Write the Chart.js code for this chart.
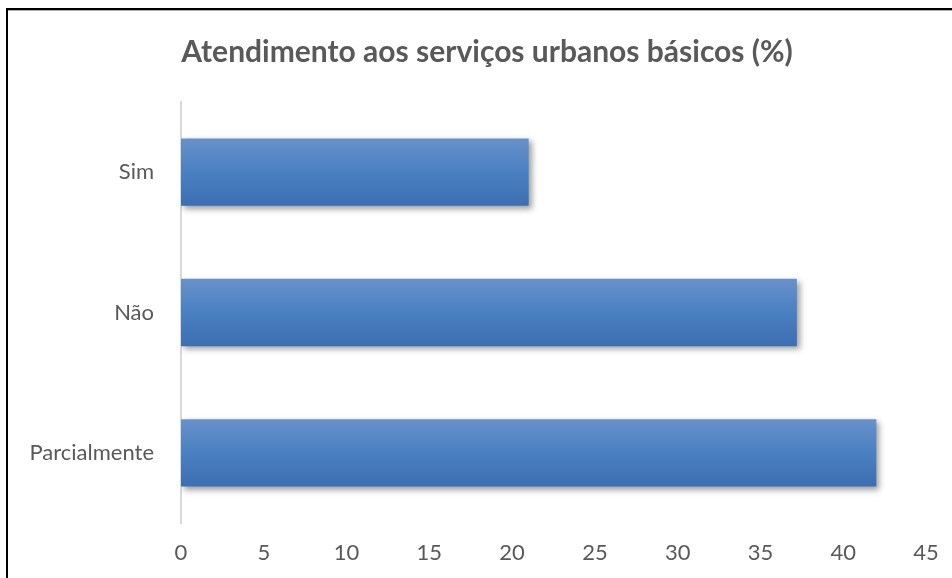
<!DOCTYPE html>
<html lang="pt">
<head>
<meta charset="utf-8">
<title>Atendimento aos serviços urbanos básicos</title>
<script src="https://cdn.jsdelivr.net/npm/chart.js@4/dist/chart.umd.min.js"></script>
<style>
    html, body {
        margin: 0;
        padding: 0;
        background: #ffffff;
        overflow: hidden;
    }
    #wrap {
        position: relative;
        width: 952px;
        height: 578px;
    }
    #frame {
        position: absolute;
        left: 6px;
        top: 8px;
        width: 1000px;
        height: 1000px;
        border-top: 2px solid #000;
        border-left: 2px solid #000;
        box-shadow: inset 0 1px 0 #b0b0b0;
        pointer-events: none;
    }
    canvas {
        position: absolute;
        left: 0;
        top: 0;
    }
</style>
</head>
<body>
<div id="wrap">
    <div id="frame"></div>
    <canvas id="chart"></canvas>
</div>
<script>
// Data
const categories = ['Sim', 'Não', 'Parcialmente'];
const percentages = [21, 37.2, 42];
const xTicks = [0, 5, 10, 15, 20, 25, 30, 35, 40, 45];

const FONT = 'Lato, "Open Sans", sans-serif';
const TEXT_COLOR = '#595959';
const BAR_PCT = 0.48;

// Vertical gradient for each bar, lighter at the top
function barGradient(context) {
    const chart = context.chart;
    if (!chart.chartArea) return '#4a7fc1';
    const yScale = chart.scales.y;
    const center = yScale.getPixelForValue(context.dataIndex);
    const band = (chart.chartArea.bottom - chart.chartArea.top) / categories.length;
    const half = band * BAR_PCT / 2;
    const g = chart.ctx.createLinearGradient(0, center - half, 0, center + half);
    g.addColorStop(0, '#6891ca');
    g.addColorStop(0.5, '#4a80c2');
    g.addColorStop(1, '#3b6eb2');
    return g;
}

// Soft drop shadow under the bars
const barShadow = {
    id: 'barShadow',
    beforeDatasetsDraw(chart) {
        const ctx = chart.ctx;
        ctx.save();
        ctx.shadowColor = 'rgba(0, 0, 0, 0.38)';
        ctx.shadowBlur = 6;
        ctx.shadowOffsetX = 3;
        ctx.shadowOffsetY = 3;
    },
    afterDatasetsDraw(chart) {
        chart.ctx.restore();
    }
};

const chart = new Chart(document.getElementById('chart').getContext('2d'), {
    type: 'bar',
    data: {
        labels: categories,
        datasets: [{
            label: 'Atendimento (%)',
            data: percentages,
            backgroundColor: barGradient,
            borderWidth: 0,
            categoryPercentage: 1,
            barPercentage: BAR_PCT
        }]
    },
    options: {
        indexAxis: 'y',
        responsive: true,
        maintainAspectRatio: false,
        animation: false,
        layout: {
            padding: { left: 22, right: 0, top: 0, bottom: 0 }
        },
        scales: {
            x: {
                min: 0,
                max: 45,
                afterBuildTicks: (axis) => {
                    axis.ticks = xTicks.map(v => ({ value: v }));
                },
                grid: { display: false, drawTicks: false },
                border: { display: false },
                ticks: {
                    padding: 17,
                    color: TEXT_COLOR,
                    font: { family: FONT, size: 22 }
                },
                afterFit: (axis) => {
                    axis.height = 55;
                    axis.paddingRight = 26;
                }
            },
            y: {
                grid: { display: false, drawTicks: false },
                border: { display: true, color: '#d9d9d9', width: 2 },
                ticks: {
                    padding: 27,
                    color: TEXT_COLOR,
                    font: { family: FONT, size: 22 }
                },
                afterFit: (axis) => { axis.width = 159; }
            }
        },
        plugins: {
            legend: { display: false },
            tooltip: { enabled: false },
            title: {
                display: true,
                text: 'Atendimento aos serviços urbanos básicos (%)',
                color: TEXT_COLOR,
                font: { family: FONT, size: 30, weight: 'bold' },
                padding: { top: 34, bottom: 32 }
            }
        }
    },
    plugins: [barShadow]
});
</script>
</body>
</html>
